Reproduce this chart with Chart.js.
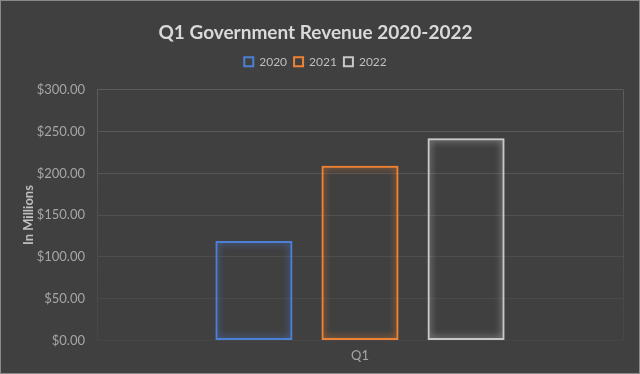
<!DOCTYPE html>
<html>
<head>
<meta charset="utf-8">
<script src="https://cdn.jsdelivr.net/npm/chart.js@4/dist/chart.umd.min.js"></script>
<style>
html,body{margin:0;padding:0;background:#404040;}
#wrap{width:640px;height:374px;position:relative;}
</style>
</head>
<body>
<div id="wrap"><canvas id="c" width="640" height="374"></canvas></div>
<script>
const categories = ["Q1"];
const seriesNames = ["2020", "2021", "2022"];
const values2020 = [119];
const values2021 = [209];
const values2022 = [242];
const seriesColors = ["#4C7FD6", "#F08233", "#C8C8C8"];

const bgPlugin = {
  id: 'bg',
  beforeDraw(chart) {
    const ctx = chart.ctx;
    ctx.save();
    ctx.fillStyle = '#404040';
    ctx.fillRect(0, 0, chart.width, chart.height);
    ctx.strokeStyle = '#8a8a8a';
    ctx.lineWidth = 1;
    ctx.strokeRect(0.5, 0.5, chart.width - 1, chart.height - 1);
    ctx.restore();
  }
};
const glowPlugin = {
  id: 'glow',
  beforeDatasetDraw(chart, args) {
    const ctx = chart.ctx;
    ctx.save();
    ctx.shadowColor = seriesColors[args.index];
    ctx.shadowBlur = 7;
  },
  afterDatasetDraw(chart) {
    chart.ctx.restore();
  }
};
// extra space below the legend
const legendSpacer = {
  id: 'legendSpacer',
  beforeLayout(chart) {
    const lg = chart.legend;
    if (lg && !lg._spacerWrapped) {
      const orig = lg.fit;
      lg.fit = function () { orig.call(this); this.height += 12; };
      lg._spacerWrapped = true;
    }
  }
};

function gridGrad(ctx) {
  const chart = ctx.chart;
  const a = chart.chartArea;
  if (!a) return '#555555';
  const g = chart.ctx.createLinearGradient(0, a.top, 0, a.bottom);
  g.addColorStop(0, '#5c5c5c');
  g.addColorStop(1, '#464646');
  return g;
}

const data = {
  labels: categories,
  datasets: [
    { label: seriesNames[0], data: values2020 },
    { label: seriesNames[1], data: values2021 },
    { label: seriesNames[2], data: values2022 }
  ].map((d, i) => Object.assign(d, {
    backgroundColor: 'rgba(0,0,0,0)',
    borderColor: seriesColors[i],
    borderWidth: 2,
    borderSkipped: false,
    categoryPercentage: 0.605,
    barPercentage: 0.726
  }))
};

new Chart(document.getElementById('c'), {
  type: 'bar',
  data: data,
  plugins: [bgPlugin, glowPlugin, legendSpacer],
  options: {
    responsive: false,
    animation: false,
    devicePixelRatio: 1,
    layout: { padding: { top: 9, right: 17, left: 8, bottom: 2 } },
    plugins: {
      title: {
        display: true,
        text: 'Q1 Government Revenue 2020-2022',
        color: '#d9d9d9',
        font: { family: 'Lato', size: 19, weight: 'bold' },
        padding: { top: 12, bottom: 5 }
      },
      legend: {
        display: true,
        labels: {
          color: '#bfbfbf',
          font: { family: 'Lato', size: 12 },
          boxWidth: 9,
          boxHeight: 9,
          padding: 7,
          generateLabels(chart) {
            return chart.data.datasets.map((ds, i) => ({
              text: ds.label,
              fillStyle: 'rgba(0,0,0,0)',
              strokeStyle: seriesColors[i],
              lineWidth: 2,
              fontColor: '#bfbfbf',
              datasetIndex: i,
              hidden: false
            }));
          }
        }
      },
      tooltip: { enabled: false }
    },
    scales: {
      x: {
        grid: { display: true, offset: true, color: gridGrad, drawTicks: false },
        border: { display: false },
        ticks: { color: '#a6a6a6', font: { family: 'Lato', size: 13 }, padding: 8 }
      },
      y: {
        min: 0,
        max: 300,
        ticks: {
          stepSize: 50,
          color: '#a6a6a6',
          font: { family: 'Lato', size: 13 },
          padding: 12,
          callback: v => '$' + Number(v).toFixed(2)
        },
        grid: { color: gridGrad, drawTicks: false },
        border: { display: false },
        title: {
          display: true,
          text: 'In Millions',
          color: '#bfbfbf',
          font: { family: 'Lato', size: 13, weight: 'bold' },
          padding: { top: 13, bottom: 8 }
        },
        afterFit(scale) { scale.width = 89; }
      }
    }
  }
});
</script>
</body>
</html>
